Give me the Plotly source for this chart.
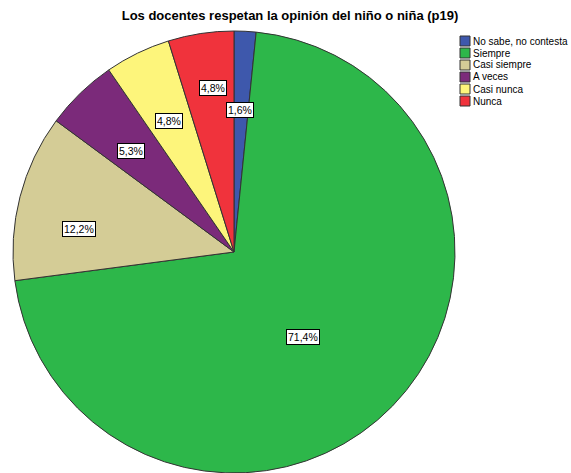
import math
import plotly.graph_objects as go

categories = ["No sabe, no contesta", "Siempre", "Casi siempre", "A veces", "Casi nunca", "Nunca"]
percent = [1.6, 71.4, 12.2, 5.3, 4.8, 4.8]
colors = ["#3E58AC", "#2DB74A", "#D4CC96", "#7B2A7A", "#FDF57B", "#F0333C"]

W, H = 571, 473
mt = 31
ph = H - mt
dom_x = [13 / W, 455 / W]

fig = go.Figure(go.Pie(
    labels=categories, values=percent, sort=False, direction="clockwise", rotation=0,
    marker=dict(colors=colors, line=dict(color="#333333", width=1)),
    textinfo="none", hoverinfo="label+percent",
    domain=dict(x=dom_x, y=[0, 1]),
    showlegend=False,
))

# boxed percentage labels, placed from slice angles (radius fraction, position inside slice)
r_px = min((dom_x[1] - dom_x[0]) * W, ph) / 2
cx = (dom_x[0] + dom_x[1]) / 2
label_r = [0.645, 0.495, 0.71, 0.65, 0.66, 0.75]
label_a = [0.42, 0.526, 0.36, 0.42, 0.47, 0.58]
total = sum(percent)
cum = 0
for v, f, a in zip(percent, label_r, label_a):
    th = 2 * math.pi * (cum + a * v) / total
    cum += v
    fig.add_annotation(
        x=cx + f * r_px * math.sin(th) / W,
        y=0.5 + f * r_px * math.cos(th) / ph,
        xref="paper", yref="paper", xanchor="center", yanchor="middle", showarrow=False,
        text=("%.1f%%" % v).replace(".", ","),
        font=dict(family="Arial", size=10.5, color="black"),
        bgcolor="white", bordercolor="black", borderwidth=1, borderpad=1,
    )

# compact legend like the original (squares + labels)
for i, (name, c) in enumerate(zip(categories, colors)):
    yc = 41 + 12 * i
    fig.add_shape(type="rect", xref="paper", yref="paper",
                  x0=460 / W, x1=470 / W,
                  y0=1 - (yc + 5 - mt) / ph, y1=1 - (yc - 5 - mt) / ph,
                  fillcolor=c, line=dict(color="#333333", width=1))
    fig.add_annotation(x=471 / W, y=1 - (yc - mt) / ph, xref="paper", yref="paper",
                       xanchor="left", yanchor="middle", showarrow=False, text=name,
                       font=dict(family="Arial", size=10, color="black"))

fig.update_layout(
    width=W, height=H,
    margin=dict(l=0, r=0, t=mt, b=0),
    paper_bgcolor="white",
    title=dict(text="<b>Los docentes respetan la opinión del niño o niña (p19)</b>",
               x=290 / W, xanchor="center", y=1 - 15 / H, yanchor="middle", yref="container",
               font=dict(family="Arial", size=13, color="black")),
)

fig.write_html("out.html", config={"displayModeBar": False},
               post_script="document.body.style.margin='0';")
